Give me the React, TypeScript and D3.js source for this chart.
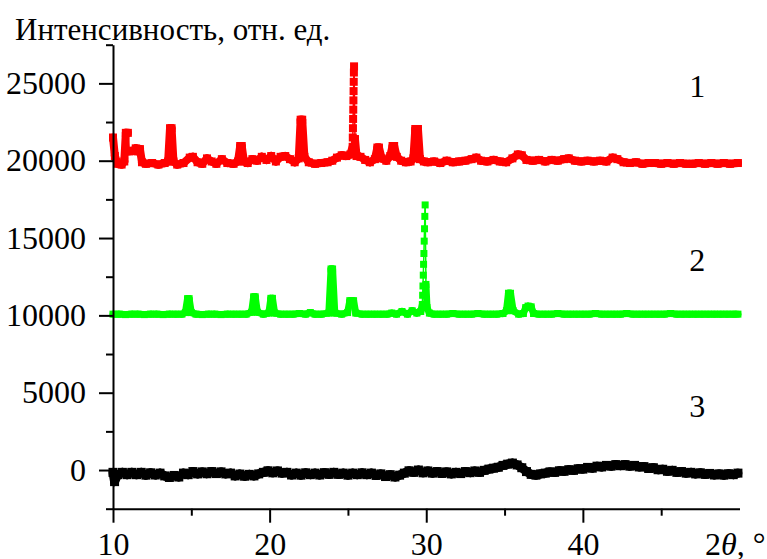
import React, { useEffect, useRef } from 'react';
import * as d3 from 'd3';

// axis ticks
const xTicks = [10, 20, 30, 40];
const xMinorTicks = [15, 25, 35, 45];
const yTicks = [0, 5000, 10000, 15000, 20000, 25000];
const yMinorTicks = [-2500, 2500, 7500, 12500, 17500, 22500, 27500];
const curveLabels = ['1', '2', '3'];
const curveLabelY = [24100, 12850, 3400];

// diffractograms: [2theta, intensity]
const red: [number, number][] = [
  [10.0, 21500], [10.12, 20300], [10.3, 19800], [10.55, 19750], [10.72, 19950],
  [10.82, 21800], [10.95, 21800], [11.05, 20600], [11.3, 20650], [11.45, 20800],
  [11.6, 20600], [11.72, 20750], [11.85, 19900], [12.1, 19800], [12.5, 19850],
  [12.9, 19750], [13.3, 19850], [13.52, 19950], [13.64, 22100], [13.74, 22100],
  [13.86, 19950], [14.1, 19750], [14.5, 19850], [14.9, 20200], [15.1, 20250],
  [15.4, 19900], [15.7, 19800], [16.0, 20150], [16.3, 19950], [16.6, 19800],
  [16.95, 20100], [17.3, 19850], [17.7, 19800], [17.98, 19950], [18.12, 20950],
  [18.22, 20950], [18.36, 19950], [18.6, 19850], [18.9, 20100], [19.2, 20000],
  [19.5, 20250], [19.8, 20050], [20.1, 20300], [20.4, 19950], [20.7, 20250],
  [21.0, 20300], [21.3, 20100], [21.6, 19900], [21.86, 20150], [21.98, 22650],
  [22.08, 22650], [22.22, 20250], [22.5, 19900], [22.9, 19800], [23.3, 19850],
  [23.7, 19900], [24.0, 20000], [24.3, 20200], [24.6, 20350], [24.9, 20300],
  [25.15, 20400], [25.3, 20900], [25.31, 21500], [25.32, 22100], [25.33, 22700],
  [25.34, 23300], [25.35, 23900], [25.36, 24500], [25.37, 25100], [25.38, 25700],
  [25.39, 26100], [25.45, 21400], [25.55, 20300], [25.8, 20250], [26.1, 20050],
  [26.4, 19900], [26.72, 20100], [26.88, 20850], [26.98, 20850], [27.15, 20150],
  [27.45, 20000], [27.7, 20300], [27.85, 20950], [27.95, 20950], [28.12, 20250],
  [28.4, 20000], [28.7, 19900], [29.0, 19950], [29.18, 20150], [29.3, 22050],
  [29.47, 22050], [29.6, 20100], [29.85, 19950], [30.1, 19900], [30.5, 19950],
  [30.9, 19850], [31.3, 20000], [31.7, 19900], [32.1, 19950], [32.5, 20000],
  [32.9, 20100], [33.2, 20200], [33.5, 20000], [33.9, 19950], [34.3, 20050],
  [34.7, 19950], [35.1, 19900], [35.5, 20150], [35.85, 20400], [36.1, 20350],
  [36.4, 20050], [36.8, 20000], [37.2, 20050], [37.6, 19950], [38.0, 20050],
  [38.4, 20000], [38.8, 20100], [39.1, 20150], [39.5, 20000], [39.9, 19950],
  [40.3, 20000], [40.7, 19950], [41.1, 20000], [41.5, 19950], [41.9, 20200],
  [42.2, 20100], [42.6, 19900], [43.0, 19850], [43.4, 19900], [43.8, 19800],
  [44.2, 19850], [44.6, 19850], [45.0, 19800], [45.4, 19850], [45.8, 19800],
  [46.2, 19850], [46.6, 19800], [47.0, 19800], [47.4, 19850], [47.8, 19800],
  [48.2, 19850], [48.6, 19800], [49.0, 19850], [49.4, 19800], [49.9, 19850],
];

const green: [number, number][] = [
  [10.0, 10080], [10.4, 10080], [10.8, 10050], [11.2, 10080], [11.6, 10080],
  [12.0, 10050], [12.4, 10080], [12.8, 10080], [13.2, 10050], [13.6, 10080],
  [14.0, 10080], [14.4, 10080], [14.62, 10180], [14.76, 11080], [14.86, 11080],
  [15.0, 10180], [15.3, 10080], [15.7, 10050], [16.1, 10080], [16.5, 10080],
  [16.9, 10050], [17.3, 10080], [17.7, 10080], [18.1, 10080], [18.5, 10080],
  [18.85, 10200], [18.98, 11200], [19.08, 11200], [19.22, 10200], [19.6, 10080],
  [19.95, 10150], [20.08, 11100], [20.18, 11100], [20.32, 10150], [20.7, 10080],
  [21.1, 10080], [21.5, 10080], [21.9, 10120], [22.3, 10080], [22.6, 10180],
  [22.9, 10080], [23.3, 10080], [23.78, 10150], [23.92, 13000], [24.02, 13000],
  [24.16, 10150], [24.6, 10080], [24.98, 10180], [25.12, 10950], [25.36, 10950],
  [25.5, 10150], [25.9, 10080], [26.3, 10080], [26.7, 10080], [27.1, 10080],
  [27.5, 10080], [27.8, 10150], [28.1, 10080], [28.45, 10250], [28.8, 10080],
  [29.1, 10300], [29.4, 10150], [29.65, 10250], [29.75, 10700], [29.77, 11300],
  [29.79, 11900], [29.81, 12600], [29.83, 13300], [29.85, 14000], [29.87, 14800],
  [29.89, 15600], [29.91, 16400], [29.93, 17140], [29.98, 12000], [30.05, 10500],
  [30.2, 10150], [30.5, 10080], [30.9, 10080], [31.3, 10080], [31.7, 10120],
  [32.1, 10080], [32.5, 10080], [32.9, 10080], [33.3, 10120], [33.7, 10080],
  [34.1, 10080], [34.5, 10080], [34.9, 10120], [35.12, 10300], [35.25, 11430],
  [35.38, 11430], [35.55, 10300], [35.9, 10080], [36.2, 10120], [36.35, 10500],
  [36.5, 10600], [36.7, 10550], [36.85, 10120], [37.2, 10080], [37.6, 10080],
  [38.0, 10080], [38.4, 10120], [38.8, 10080], [39.2, 10080], [39.6, 10080],
  [40.0, 10080], [40.4, 10080], [40.8, 10120], [41.2, 10080], [41.6, 10080],
  [42.0, 10080], [42.4, 10080], [42.8, 10120], [43.2, 10080], [43.6, 10080],
  [44.0, 10080], [44.4, 10080], [44.8, 10080], [45.2, 10080], [45.6, 10120],
  [46.0, 10080], [46.4, 10080], [46.8, 10080], [47.2, 10080], [47.6, 10080],
  [48.0, 10080], [48.4, 10080], [48.8, 10080], [49.2, 10080], [49.6, 10080],
  [49.9, 10080],
];

const black: [number, number][] = [
  [10.0, -150], [10.1, -750], [10.3, -300], [10.6, -150], [10.9, -300],
  [11.2, -150], [11.5, -300], [11.8, -150], [12.1, -330], [12.4, -180],
  [12.7, -320], [13.0, -200], [13.3, -380], [13.6, -480], [13.9, -350],
  [14.2, -450], [14.5, -200], [14.8, -300], [15.1, -100], [15.4, -250],
  [15.7, -120], [16.0, -240], [16.3, -100], [16.6, -230], [16.9, -120],
  [17.2, -250], [17.5, -200], [17.8, -380], [18.1, -260], [18.4, -400],
  [18.7, -280], [19.0, -380], [19.3, -250], [19.6, -150], [19.9, -50],
  [20.2, -180], [20.5, -60], [20.8, -200], [21.1, -150], [21.4, -320],
  [21.7, -200], [22.0, -330], [22.3, -180], [22.6, -300], [22.9, -200],
  [23.2, -320], [23.5, -170], [23.8, -280], [24.1, -150], [24.4, -280],
  [24.7, -200], [25.0, -330], [25.3, -200], [25.6, -300], [25.9, -180],
  [26.2, -300], [26.5, -200], [26.8, -350], [27.1, -250], [27.4, -420],
  [27.7, -300], [28.0, -450], [28.3, -330], [28.6, -200], [28.9, -50],
  [29.2, -150], [29.5, 0], [29.8, -180], [30.1, -60], [30.4, -200],
  [30.7, -100], [31.0, -220], [31.3, -120], [31.6, -250], [31.9, -150],
  [32.2, -230], [32.5, -100], [32.8, -170], [33.1, -60], [33.4, -150],
  [33.7, -20], [34.0, 60], [34.3, 120], [34.6, 180], [34.9, 300],
  [35.2, 380], [35.5, 450], [35.8, 330], [36.1, 150], [36.4, -100],
  [36.7, -280], [37.0, -330], [37.3, -250], [37.6, -200], [37.9, -120],
  [38.2, -150], [38.5, -50], [38.8, -80], [39.1, 20], [39.4, -20],
  [39.7, 80], [40.0, 60], [40.3, 170], [40.6, 120], [40.9, 250],
  [41.2, 200], [41.5, 300], [41.8, 250], [42.1, 350], [42.4, 280],
  [42.7, 350], [43.0, 250], [43.3, 300], [43.6, 200], [43.9, 220],
  [44.2, 100], [44.5, 150], [44.8, 20], [45.1, 50], [45.4, -80],
  [45.7, -20], [46.0, -150], [46.3, -100], [46.6, -200], [46.9, -150],
  [47.2, -250], [47.5, -180], [47.8, -280], [48.1, -220], [48.4, -320],
  [48.7, -250], [49.0, -330], [49.3, -240], [49.6, -300], [49.9, -200],
];

export default function App() {
  const ref = useRef<SVGSVGElement>(null);

  useEffect(() => {
    const svg = d3.select(ref.current);
    svg.selectAll('*').remove();

    const font = "'Liberation Serif', 'DejaVu Serif', serif";
    const fontSize = 32;

    const x = d3.scaleLinear().domain([10, 50]).range([113, 739.5]);
    const y = d3.scaleLinear().domain([-2500, 27500]).range([508.7, 44.7]);

    // curves: heavy band of square markers, thin line on the tall peaks
    const series = [
      { data: black, color: '#000000', width: 9, marker: 9 },
      { data: green, color: '#00ff00', width: 7, marker: 7 },
      { data: red, color: '#ff0000', width: 8, marker: 8 },
    ];

    series.forEach(s => {
      const base = d3.median(s.data, d => d[1]) as number;
      const segs = d3.pairs(s.data);
      const m = s.marker;
      const g = svg.append('g');
      g.selectAll('line')
        .data(segs)
        .enter().append('line')
        .attr('x1', d => x(d[0][0])).attr('y1', d => y(d[0][1]))
        .attr('x2', d => x(d[1][0])).attr('y2', d => y(d[1][1]))
        .attr('stroke', s.color)
        .attr('stroke-linecap', 'round')
        .attr('stroke-width', d => {
          const lo = Math.min(d[0][1], d[1][1]);
          const dy = Math.abs(d[0][1] - d[1][1]);
          return lo - base > 500 && dy > 300 ? 1.5 : s.width;
        });
      g.selectAll('rect')
        .data(s.data)
        .enter().append('rect')
        .attr('x', d => x(d[0]) - m / 2)
        .attr('y', d => y(d[1]) - m / 2)
        .attr('width', m)
        .attr('height', m)
        .attr('fill', s.color);
    });

    // y axis
    const yAxis = svg.append('g')
      .attr('transform', 'translate(113,0)')
      .call(d3.axisLeft(y).tickValues(yTicks).tickSize(14).tickSizeOuter(0).tickPadding(13).tickFormat(d3.format('d')));
    svg.append('g')
      .attr('transform', 'translate(113,0)')
      .call(d3.axisLeft(y).tickValues(yMinorTicks).tickSize(7).tickFormat(() => ''))
      .call(g => g.select('.domain').remove());

    // x axis
    const xAxis = svg.append('g')
      .attr('transform', 'translate(0,' + y(-2500) + ')')
      .call(d3.axisBottom(x).tickValues(xTicks).tickSize(14).tickSizeOuter(0).tickPadding(10).tickFormat(d3.format('d')));
    svg.append('g')
      .attr('transform', 'translate(0,' + y(-2500) + ')')
      .call(d3.axisBottom(x).tickValues(xMinorTicks).tickSize(7).tickFormat(() => ''))
      .call(g => g.select('.domain').remove());

    svg.selectAll('.domain, .tick line').attr('stroke', '#000').attr('stroke-width', 2);
    [yAxis, xAxis].forEach(a => {
      a.attr('font-family', null).attr('font-size', null);
      a.selectAll('text')
        .style('font-family', font)
        .style('font-size', fontSize + 'px')
        .attr('fill', '#000');
    });

    // titles
    svg.append('text')
      .attr('x', 15).attr('y', 40)
      .style('font-family', font).style('font-size', '31px')
      .text('Интенсивность, отн. ед.');

    const xt = svg.append('text')
      .attr('x', 705).attr('y', 555)
      .style('font-family', font).style('font-size', fontSize + 'px');
    xt.append('tspan').text('2');
    xt.append('tspan').style('font-style', 'italic').text('θ');
    xt.append('tspan').text(', °');

    // curve numbers
    curveLabels.forEach((t, i) => {
      svg.append('text')
        .attr('x', x(47.3)).attr('y', y(curveLabelY[i]))
        .attr('text-anchor', 'middle')
        .style('font-family', font).style('font-size', fontSize + 'px')
        .text(t);
    });
  }, []);

  return (
    <svg ref={ref} width={767} height={559}
      style={{ position: 'absolute', left: 0, top: 0, background: '#fff' }} />
  );
}
